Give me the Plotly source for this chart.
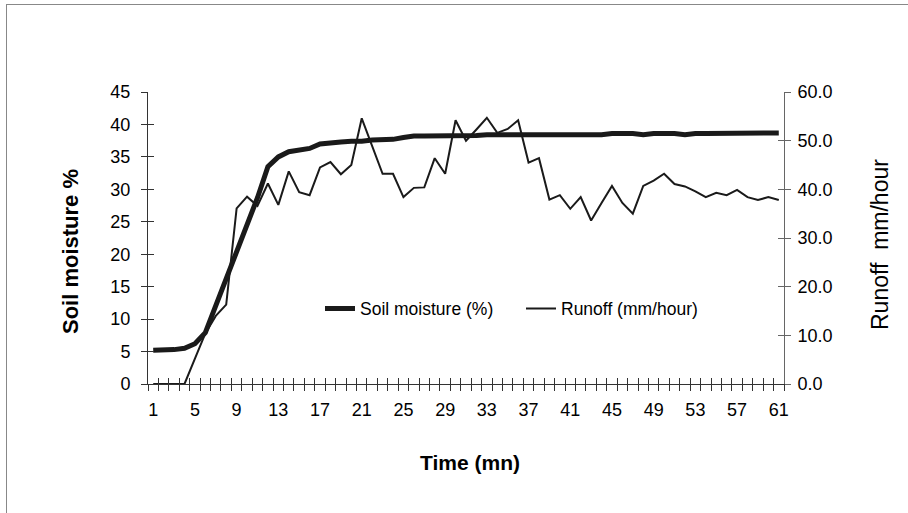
import plotly.graph_objects as go

# ---------------- data ----------------
minutes = list(range(1, 62))
soil_moisture = [5.2, 5.2, 5.3, 5.5, 6.2, 7.9, 12.0, 16.2, 20.3, 24.5,
                 28.7, 33.5, 35.0, 35.8, 36.1, 36.3, 37.0, 37.2, 37.3, 37.4,
                 37.4, 37.6, 37.7, 37.7, 38.0, 38.2, 38.2, 38.2, 38.2, 38.3,
                 38.3, 38.3, 38.4, 38.4, 38.4, 38.4, 38.4, 38.4, 38.4, 38.4,
                 38.4, 38.4, 38.4, 38.4, 38.6, 38.6, 38.6, 38.4, 38.6, 38.6,
                 38.6, 38.4, 38.6, 38.6, 38.6, 38.6, 38.6, 38.6, 38.6, 38.6,
                 38.7]
runoff = [0.0, 0.0, 0.0, 0.0, 5.2, 10.4, 14.0, 16.3, 36.1, 38.5,
          36.6, 41.2, 36.8, 43.7, 39.4, 38.8, 44.5, 45.6, 43.1, 45.0,
          54.6, 48.8, 43.2, 43.2, 38.4, 40.3, 40.4, 46.4, 43.2, 54.2,
          50.0, 52.3, 54.7, 51.6, 52.4, 54.2, 45.5, 46.4, 37.9, 38.8,
          36.0, 38.4, 33.6, 37.2, 40.7, 37.2, 35.0, 40.7, 41.8, 43.2,
          41.1, 40.6, 39.6, 38.4, 39.3, 38.8, 39.9, 38.4, 37.8, 38.4,
          37.8]
x_tick_vals = [1, 5, 9, 13, 17, 21, 25, 29, 33, 37, 41, 45, 49, 53, 57, 61]
x_tick_text = ["1", "5", "9", "13", "17", "21", "25", "29", "33", "37",
               "41", "45", "49", "53", "57", "61"]
left_tick_vals = [0, 5, 10, 15, 20, 25, 30, 35, 40, 45]
right_tick_vals = [0, 10, 20, 30, 40, 50, 60]

FONT = "Liberation Sans, Arial, sans-serif"
INK = "#1a1a1a"
AX = "#333333"
AX2 = "#666666"
TICK_SIZE = 18
LEG_SIZE = 17.5

fig = go.Figure()
fig.add_trace(go.Scatter(x=minutes, y=soil_moisture, name="Soil moisture (%)",
                         mode="lines", line=dict(color=INK, width=5),
                         yaxis="y", xaxis="x"))
fig.add_trace(go.Scatter(x=minutes, y=runoff, name="Runoff (mm/hour)",
                         mode="lines", line=dict(color=INK, width=2),
                         yaxis="y2", xaxis="x"))

# invisible helper traces so that the overlaid tick-only axes get drawn
for xa, ya in [("x2", "y"), ("x3", "y"), ("x", "y3"), ("x", "y4")]:
    fig.add_trace(go.Scatter(x=minutes, y=soil_moisture, xaxis=xa, yaxis=ya,
                             mode="lines", line=dict(width=0, color="rgba(0,0,0,0)"),
                             opacity=0, showlegend=False, hoverinfo="skip"))

xr = [0.5, 61.5]
tickfont = dict(family=FONT, size=TICK_SIZE, color="black")

fig.update_layout(
    width=908, height=513,
    margin=dict(l=148, r=124, t=92, b=129, autoexpand=False),
    paper_bgcolor="white", plot_bgcolor="white",
    font=dict(family=FONT, size=16, color="black"),
    showlegend=True,
    legend=dict(orientation="h", x=(320 - 148) / 636, y=0.258, xanchor="left",
                yanchor="middle", bgcolor="rgba(0,0,0,0)",
                font=dict(family=FONT, size=LEG_SIZE, color="black"),
                entrywidth=156, entrywidthmode="pixels", itemwidth=30),
    xaxis=dict(range=xr, showgrid=False, zeroline=False, showline=True,
               linecolor=AX, linewidth=1, tickmode="linear", tick0=0.5, dtick=1,
               ticks="outside", ticklen=6, tickcolor=AX, showticklabels=False),
    xaxis2=dict(range=xr, overlaying="x", anchor="y", side="bottom", showgrid=False,
                zeroline=False, tickmode="linear", tick0=0.5, dtick=1,
                ticks="inside", ticklen=6, tickcolor=AX, showticklabels=False),
    xaxis3=dict(range=xr, overlaying="x", anchor="y", side="bottom", showgrid=False,
                zeroline=False, tickmode="array", tickvals=x_tick_vals,
                ticktext=x_tick_text, ticks="", tickfont=tickfont,
                ticklabelstandoff=13),
    yaxis=dict(range=[0, 45], showgrid=False, zeroline=False, showline=True,
               linecolor=AX, linewidth=1, tickmode="array", tickvals=left_tick_vals,
               ticks="outside", ticklen=6, tickcolor=AX, tickfont=tickfont,
               ticklabelstandoff=7),
    yaxis3=dict(range=[0, 45], overlaying="y", anchor="x", side="left", showgrid=False,
                zeroline=False, tickmode="array", tickvals=left_tick_vals,
                ticks="inside", ticklen=6, tickcolor=AX, showticklabels=False),
    yaxis2=dict(range=[0, 60], overlaying="y", anchor="x", side="right", showgrid=False,
                zeroline=False, showline=True, linecolor=AX2, linewidth=1,
                tickmode="array", tickvals=right_tick_vals, tickformat=".1f",
                ticks="outside", ticklen=6, tickcolor=AX2, tickfont=tickfont,
                ticklabelstandoff=3),
    yaxis4=dict(range=[0, 60], overlaying="y", anchor="x", side="right", showgrid=False,
                zeroline=False, tickmode="array", tickvals=right_tick_vals,
                ticks="inside", ticklen=6, tickcolor=AX2, showticklabels=False),
)

# axis titles
fig.add_annotation(text="<b>Soil moisture %</b>", xref="paper", yref="paper",
                   x=(70 - 148) / 636, y=(384 - 252) / 292, textangle=-90,
                   showarrow=False, xanchor="center", yanchor="middle",
                   font=dict(family=FONT, size=22, color="black"))
fig.add_annotation(text="Runoff\u00a0 mm/hour", xref="paper", yref="paper",
                   x=(880 - 148) / 636, y=(384 - 245) / 292, textangle=-90,
                   showarrow=False, xanchor="center", yanchor="middle",
                   font=dict(family=FONT, size=23, color="black"))
fig.add_annotation(text="<b>Time (mn)</b>", xref="paper", yref="paper",
                   x=(470 - 148) / 636, y=(384 - 462) / 292,
                   showarrow=False, xanchor="center", yanchor="middle",
                   font=dict(family=FONT, size=21, color="black"))

# outer frame (top and left edges visible in the reference)
fig.add_shape(type="line", xref="paper", yref="paper",
              x0=(6 - 148) / 636, x1=(908 - 148) / 636,
              y0=(384 - 4.5) / 292, y1=(384 - 4.5) / 292,
              line=dict(color="#888888", width=1))
fig.add_shape(type="line", xref="paper", yref="paper",
              x0=(6.5 - 148) / 636, x1=(6.5 - 148) / 636,
              y0=(384 - 4.5) / 292, y1=(384 - 513) / 292,
              line=dict(color="#888888", width=1))

fig.write_html("out.html", config={"displayModeBar": False},
               post_script="document.body.style.margin='0';document.body.style.overflow='hidden';")
